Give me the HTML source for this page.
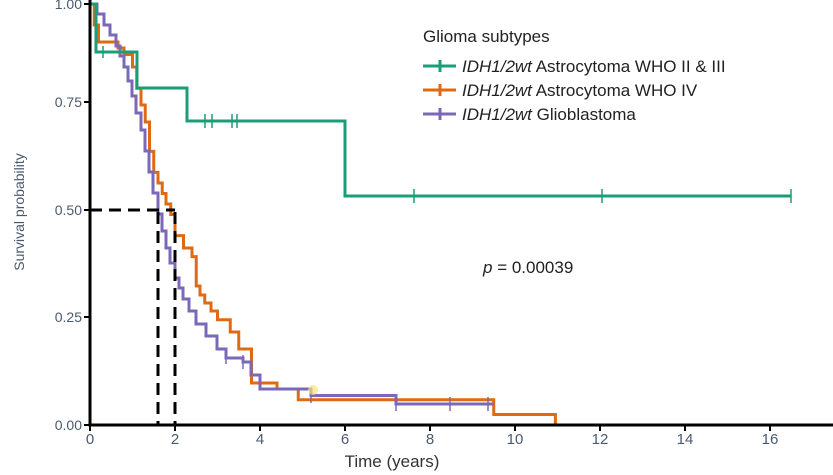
<!DOCTYPE html>
<html><head><meta charset="utf-8"><style>body{margin:0;background:#fff}svg{display:block}text{font-family:"Liberation Sans",sans-serif}</style></head><body>
<svg width="833" height="475" viewBox="0 0 833 475">
<g fill="none" stroke-width="3" stroke-linejoin="miter">
<path stroke="#e06a14" d="M90,4 H94.25 V25 H98.5 V42 H118 V48 H124 V54.5 H132.5 V67 H136.75 V88.2 H141 V105 H145.25 V122 H149.5 V151.4 H153.75 V172.4 H158 V183 H162.25 V193.5 H166 V204 H170.75 V214.5 H175 V235.6 H183.5 V248 H192 V256.6 H196.25 V286 H200 V295 H204.75 V303 H211 V311 H217.5 V319.75 H230.25 V332 H238.75 V349 H251.5 V361.9 V383 H277 V389 H298.25 V399.7 H493.75 V414.5 H555.4 V425"/>
<path stroke="#7b68b8" d="M90,4 H97 V14 H104 V25 H110 V35 H116 V46 H120 V56 H124 V67 H128 V81 H132 V96 H136 V113 H141 V130 H145 V151 H149 V172 H153 V193 H158 V214 H162 V231 H166 V248 H170 V263 H175 V278 H179 V288 H183 V299 H189 V311 H196 V324 H206 V336 H217 V349 H226 V358 H243 V362 H251 V375 H260 V389 H311 V395.5 H396 V404 H493.75"/>
<path stroke="#1a9e77" d="M90,4 H96 V52 H137 V88 H187 V121 H345 V196 H791"/>
<path stroke="#1a9e77" stroke-width="1.5" d="M103,46v12M205,114v14M212,114v14M232,114v14M237,114v14M414,189v14M602,189v14M791,189v14"/>
<path stroke="#7b68b8" stroke-width="1.5" d="M311,389v14M396,397v14M450,397v14M488,397v14M226,350v14M243,355v14"/>
<path stroke="#000" stroke-width="3" stroke-dasharray="12,7" d="M90,210 H175 M158,212 V425 M175,212 V425"/>
<path stroke="#000" stroke-width="3" d="M90,0 V425 H833"/>
<path stroke="#000" stroke-width="2" d="M84,4H90M84,102H90M84,210H90M84,317H90M84,425H90M90,425v6M175,425v6M260,425v6M345,425v6M430,425v6M515,425v6M600,425v6M685,425v6M770,425v6"/>
</g>
<circle cx="313" cy="390" r="5" fill="#f5e27a" opacity="0.7"/>
<g fill="#4a5a6e" font-size="14" text-anchor="end">
<text x="82" y="9">1.00</text><text x="82" y="107">0.75</text><text x="82" y="215">0.50</text><text x="82" y="322">0.25</text><text x="82" y="430">0.00</text>
</g>
<g fill="#4a5a6e" font-size="15" text-anchor="middle">
<text x="90" y="444">0</text><text x="175" y="444">2</text><text x="260" y="444">4</text><text x="345" y="444">6</text><text x="430" y="444">8</text><text x="515" y="444">10</text><text x="600" y="444">12</text><text x="685" y="444">14</text><text x="770" y="444">16</text>
</g>
<text x="392" y="467" font-size="17" fill="#333" text-anchor="middle">Time (years)</text>
<text transform="translate(24,212) rotate(-90)" font-size="14" fill="#4a5a6e" text-anchor="middle">Survival probability</text>
<text x="423" y="42" font-size="17" fill="#222">Glioma subtypes</text>
<g stroke-width="3"><path stroke="#1a9e77" d="M423,66H456M440,60v12"/><path stroke="#e06a14" d="M423,90H456M440,84v12"/><path stroke="#7b68b8" d="M423,114H456M440,108v12"/></g>
<g font-size="17" fill="#222">
<text x="462" y="72"><tspan font-style="italic">IDH1/2wt</tspan> Astrocytoma WHO II &amp; III</text>
<text x="462" y="96"><tspan font-style="italic">IDH1/2wt</tspan> Astrocytoma WHO IV</text>
<text x="462" y="120"><tspan font-style="italic">IDH1/2wt</tspan> Glioblastoma</text>
<text x="483" y="273"><tspan font-style="italic">p</tspan> = 0.00039</text>
</g>
</svg>
</body></html>
